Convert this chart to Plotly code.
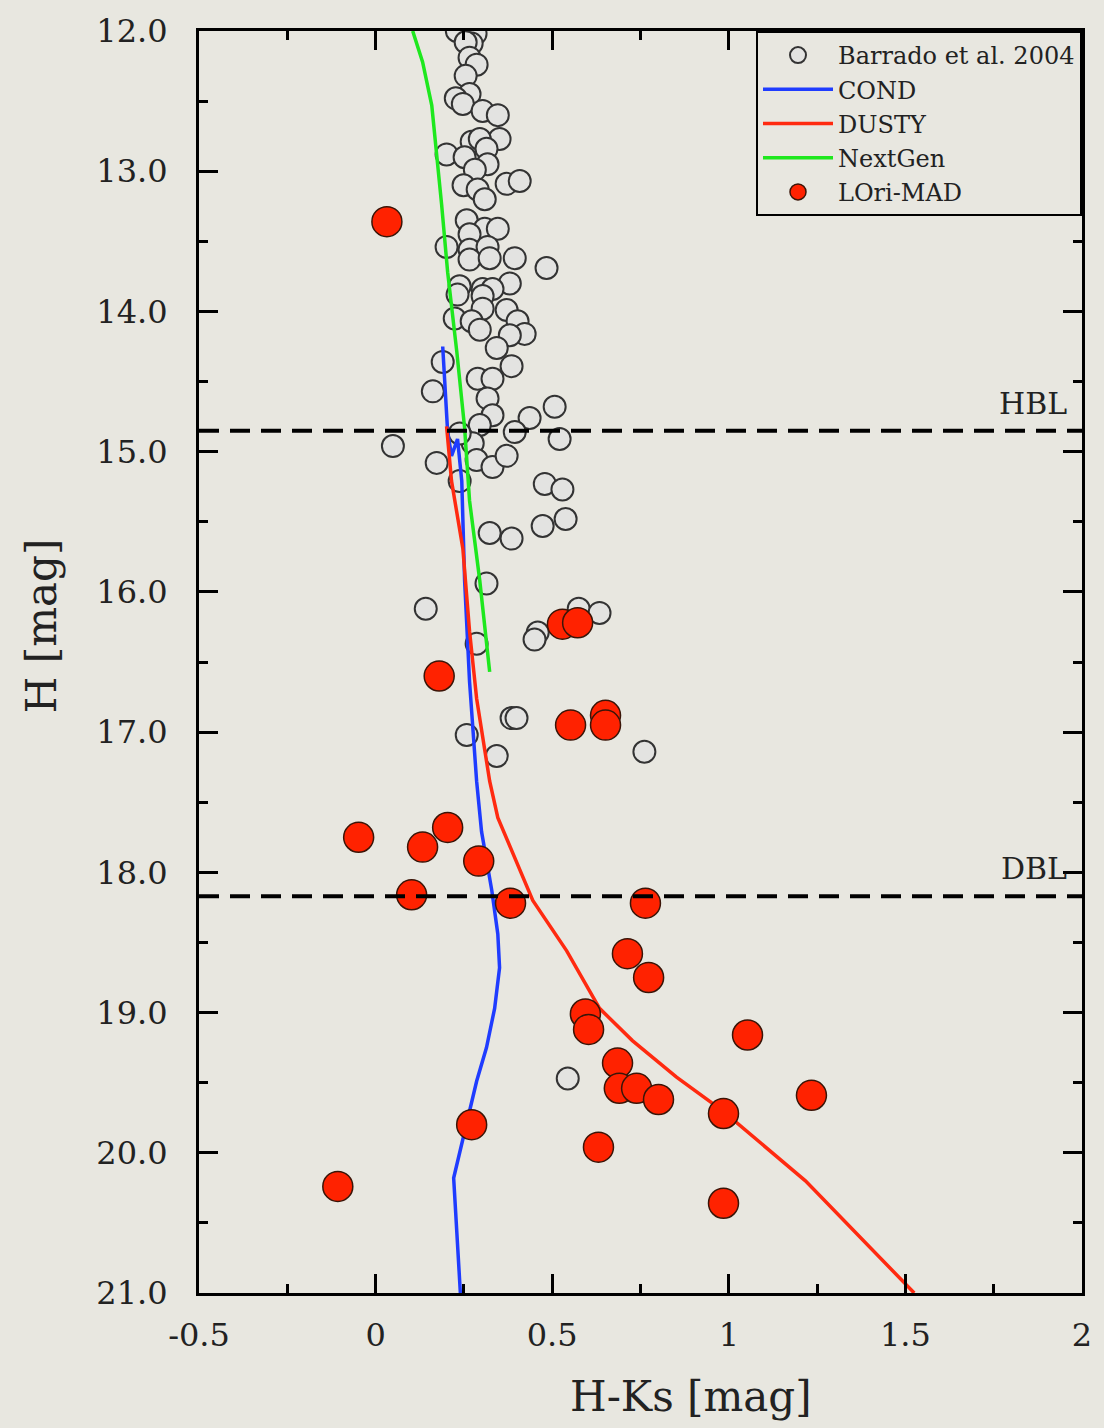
import plotly.graph_objects as go

# Barrado et al. 2004 (open circles)
barrado_hks = [0.230, 0.283, 0.272, 0.255, 0.266, 0.286, 0.255, 0.266, 0.227, 0.247, 0.303, 0.346,
               0.351, 0.272, 0.295, 0.201, 0.252, 0.314, 0.317, 0.281, 0.371, 0.408, 0.249, 0.289,
               0.309, 0.258, 0.309, 0.346, 0.266, 0.201, 0.266, 0.317, 0.266, 0.323, 0.394, 0.484,
               0.238, 0.303, 0.380, 0.331, 0.232, 0.303, 0.303, 0.371, 0.224, 0.272, 0.295, 0.402,
               0.422, 0.380, 0.343, 0.385, 0.190, 0.289, 0.331, 0.162, 0.317, 0.331, 0.507, 0.436,
               0.295, 0.394, 0.521, 0.049, 0.275, 0.238, 0.173, 0.286, 0.331, 0.371, 0.238, 0.479,
               0.529, 0.538, 0.473, 0.323, 0.385, 0.314, 0.142, 0.575, 0.634, 0.459, 0.450, 0.286,
               0.385, 0.399, 0.258, 0.343, 0.761, 0.544]
barrado_h = [12.00, 12.02, 12.09, 12.08, 12.19, 12.24, 12.32, 12.45, 12.48, 12.52, 12.57, 12.60,
             12.77, 12.79, 12.77, 12.88, 12.90, 12.84, 12.95, 12.99, 13.09, 13.07, 13.10, 13.13,
             13.20, 13.35, 13.41, 13.41, 13.45, 13.54, 13.56, 13.54, 13.63, 13.62, 13.62, 13.69,
             13.82, 13.84, 13.80, 13.84, 13.88, 13.89, 13.98, 13.99, 14.05, 14.07, 14.13, 14.07,
             14.16, 14.17, 14.26, 14.39, 14.36, 14.48, 14.48, 14.57, 14.62, 14.74, 14.68, 14.76,
             14.81, 14.86, 14.91, 14.96, 14.94, 14.87, 15.08, 15.06, 15.11, 15.03, 15.21, 15.23,
             15.27, 15.48, 15.53, 15.58, 15.62, 15.94, 16.12, 16.12, 16.15, 16.29, 16.34, 16.37,
             16.90, 16.90, 17.02, 17.17, 17.14, 19.47]

# LOri-MAD (red filled circles)
lori_hks = [0.032, 0.529, 0.572, 0.180, 0.552, 0.651, 0.651, -0.048, 0.204, 0.133, 0.292, 0.102,
            0.382, 0.764, 0.713, 0.773, 0.594, 0.603, 1.053, 0.685, 0.690, 0.739, 0.801, 0.985,
            1.234, 0.272, 0.631, -0.107, 0.985]
lori_h = [13.36, 16.23, 16.22, 16.60, 16.95, 16.88, 16.95, 17.75, 17.68, 17.82, 17.92, 18.16,
          18.22, 18.22, 18.58, 18.75, 19.01, 19.12, 19.16, 19.36, 19.54, 19.54, 19.62, 19.72,
          19.59, 19.80, 19.96, 20.24, 20.36]

# Isochrones
cond_hks = [0.190, 0.199, 0.204, 0.215, 0.232, 0.244, 0.252, 0.266, 0.286, 0.300, 0.329, 0.346,
            0.351, 0.337, 0.314, 0.286, 0.266, 0.221, 0.240]
cond_h = [14.25, 14.64, 14.86, 15.03, 14.91, 15.21, 15.92, 16.64, 17.35, 17.71, 18.13, 18.44,
          18.68, 18.97, 19.25, 19.49, 19.71, 20.18, 21.00]

dusty_hks = [0.201, 0.215, 0.247, 0.266, 0.286, 0.323, 0.346, 0.399, 0.445, 0.541, 0.634, 0.727,
             0.852, 0.982, 1.217, 1.525]
dusty_h = [14.82, 15.21, 15.69, 16.28, 16.76, 17.35, 17.61, 17.92, 18.20, 18.56, 18.97, 19.20,
           19.46, 19.70, 20.20, 21.00]

nextgen_hks = [0.105, 0.133, 0.159, 0.173, 0.187, 0.204, 0.230, 0.252, 0.266, 0.295, 0.323]
nextgen_h = [12.00, 12.22, 12.53, 12.88, 13.24, 13.72, 14.29, 14.83, 15.35, 15.92, 16.57]

# Boundaries
limit_names = ["HBL", "DBL"]
limit_h = [14.85, 18.17]

x_tickvals = [-0.5, 0, 0.5, 1, 1.5, 2]
x_ticktext = ["-0.5", "0", "0.5", "1", "1.5", "2"]
y_tickvals = [12, 13, 14, 15, 16, 17, 18, 19, 20, 21]
y_ticktext = ["12.0", "13.0", "14.0", "15.0", "16.0", "17.0", "18.0", "19.0", "20.0", "21.0"]

x_title = "H-Ks [mag]"
y_title = "H [mag]"

FONT = "DejaVu Serif"
BG = "#e8e7e0"

fig = go.Figure()

fig.add_trace(go.Scatter(
    x=barrado_hks, y=barrado_h, mode="markers", name="Barrado et al. 2004",
    marker=dict(size=22, color="#e3e3e1", line=dict(color="#333333", width=2))))
fig.add_trace(go.Scatter(
    x=cond_hks, y=cond_h, mode="lines", name="COND",
    line=dict(color="#1f3cff", width=3.5)))
fig.add_trace(go.Scatter(
    x=dusty_hks, y=dusty_h, mode="lines", name="DUSTY",
    line=dict(color="#ff2a10", width=3.5)))
fig.add_trace(go.Scatter(
    x=nextgen_hks, y=nextgen_h, mode="lines", name="NextGen",
    line=dict(color="#1ee81e", width=3.5)))
fig.add_trace(go.Scatter(
    x=lori_hks, y=lori_h, mode="markers", name="LOri-MAD",
    marker=dict(size=30, color="#ff2200", line=dict(color="#3a1508", width=1.5))))

for name, h in zip(limit_names, limit_h):
    fig.add_shape(type="line", xref="paper", x0=0, x1=1, yref="y", y0=h, y1=h,
                  line=dict(color="black", width=4, dash="20px,11px"), layer="above")
    fig.add_annotation(text=name, xref="paper", x=0.985, xanchor="right",
                       yref="y", y=h, yanchor="bottom", yshift=8, showarrow=False,
                       font=dict(family=FONT, size=30, color="#222"))

# axis titles (placed as in the reference, slightly off-centre)
fig.add_annotation(text=x_title, xref="paper", yref="paper", x=0.557, y=-0.082,
                   xanchor="center", yanchor="middle", showarrow=False,
                   font=dict(family=FONT, size=42, color="#222"))
fig.add_annotation(text=y_title, xref="paper", yref="paper", x=-0.178, y=0.529,
                   xanchor="center", yanchor="middle", showarrow=False, textangle=-90,
                   font=dict(family=FONT, size=42, color="#222"))

axis_common = dict(
    showgrid=False, zeroline=False, showline=True, linecolor="black", linewidth=3,
    mirror="allticks", ticks="inside", ticklen=19, tickwidth=3, tickcolor="black",
    tickfont=dict(family=FONT, size=32, color="#222"),
)

fig.update_xaxes(range=[-0.5, 2], tickvals=x_tickvals, ticktext=x_ticktext,
                 minor=dict(ticks="inside", ticklen=9, tickwidth=3, tickcolor="black", dtick=0.25,
                            tick0=0, showgrid=False),
                 ticklabelstandoff=12, **axis_common)
fig.update_yaxes(range=[21, 12], tickvals=y_tickvals, ticktext=y_ticktext,
                 minor=dict(ticks="inside", ticklen=9, tickwidth=3, tickcolor="black", dtick=0.5,
                            tick0=12, showgrid=False),
                 ticklabelstandoff=22, **axis_common)

fig.update_layout(
    width=1104, height=1428,
    margin=dict(l=199, r=21, t=29, b=135),
    paper_bgcolor=BG, plot_bgcolor=BG,
    showlegend=True,
    legend=dict(x=1, xanchor="right", y=1, yanchor="top",
                bgcolor=BG, bordercolor="black", borderwidth=2,
                font=dict(family=FONT, size=24, color="#222"),
                tracegroupgap=0, itemwidth=70),
)

fig.write_html("out.html", config={"displayModeBar": False},
               post_script="document.body.style.margin='0';document.body.style.background='#e8e7e0';")
